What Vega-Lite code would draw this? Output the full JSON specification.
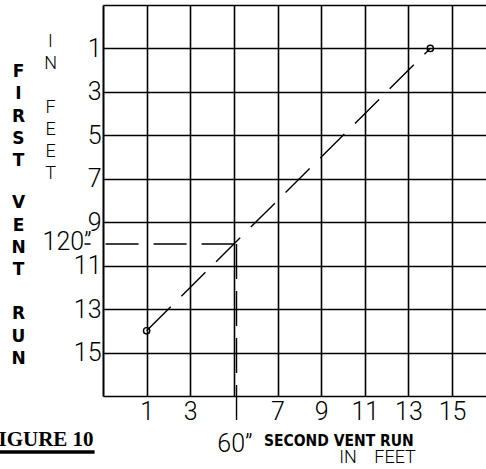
{
  "$schema": "https://vega.github.io/schema/vega-lite/v6.json",
  "autosize": {"type": "none"},
  "padding": {"left": 103, "top": 5, "right": 0, "bottom": 73},
  "width": 384,
  "height": 391,
  "config": {"view": {"stroke": null}},
  "datasets": {
    "diag": [{"x": 1, "y": 14}, {"x": 14, "y": 1}],
    "hline": [{"x": -1.845, "y": 10}, {"x": 5, "y": 10}],
    "vline": [{"x": 5.12, "y": 10}, {"x": 5.12, "y": 18.27}],
    "t120": [{"x": -1.52, "y": 10.3, "t": "120\u201d"}],
    "t60": [{"x": 5.05, "y": 19.6, "t": "60\u201d"}],
    "vtitle": [
      {"x": -4.873, "y": 2.103, "t": "F\nI\nR\nS\nT"},
      {"x": -4.873, "y": 8.134, "t": "V\nE\nN\nT"},
      {"x": -4.873, "y": 13.245, "t": "R\nU\nN"}
    ],
    "vunit": [
      {"x": -3.405, "y": 0.722, "t": "I\nN"},
      {"x": -3.405, "y": 3.76, "t": "F\nE\nE\nT"}
    ],
    "htitle": [{"x": 9.81, "y": 19.28, "t": "SECOND VENT RUN"}],
    "hunit": [{"x": 11.58, "y": 20.1, "t": "IN\u00a0\u00a0\u00a0\u00a0FEET"}],
    "fig": [{"x": -1.43, "y": 19.28, "t": "FIGURE 10"}],
    "figline": [{"x": -6, "y": 19.58}, {"x": -1.385, "y": 19.58}]
  },
  "encoding": {
    "x": {
      "field": "x", "type": "quantitative",
      "scale": {"domain": [-1, 16.6], "nice": false, "zero": false},
      "axis": {
        "title": null, "values": [-1, 1, 3, 5, 7, 9, 11, 13, 15],
        "grid": true, "gridColor": "#000", "gridWidth": 1.6, "gridOpacity": 1,
        "domain": false, "ticks": false, "labelPadding": 3,
        "labelFont": "Roboto", "labelFontWeight": 300, "labelFontSize": 25, "labelColor": "#000",
        "labelFlush": false, "labelOverlap": false,
        "labelExpr": "datum.value == -1 || datum.value == 5 ? '' : datum.label"
      }
    },
    "y": {
      "field": "y", "type": "quantitative",
      "scale": {"domain": [-1, 17], "nice": false, "zero": false, "reverse": true},
      "axis": {
        "title": null, "values": [-1, 1, 3, 5, 7, 9, 11, 13, 15, 17],
        "grid": true, "gridColor": "#000", "gridWidth": 1.6, "gridOpacity": 1,
        "domain": true, "domainColor": "#000", "domainWidth": 1.6, "ticks": false, "labelPadding": 2,
        "labelFont": "Roboto", "labelFontWeight": 300, "labelFontSize": 25, "labelColor": "#000",
        "labelFlush": false, "labelOverlap": false,
        "labelExpr": "datum.value == -1 || datum.value == 17 ? '' : datum.label"
      }
    }
  },
  "layer": [
    {"data": {"name": "diag"}, "mark": {"type": "line", "color": "#000", "strokeWidth": 1.4, "strokeDash": [34, 15]}},
    {"data": {"name": "diag"}, "mark": {"type": "point", "shape": "circle", "filled": false, "color": "#000", "size": 40, "strokeWidth": 1.4, "opacity": 1}},
    {"data": {"name": "hline"}, "mark": {"type": "line", "color": "#000", "strokeWidth": 1.4, "strokeDash": [33, 15], "strokeDashOffset": 27}},
    {"data": {"name": "vline"}, "mark": {"type": "line", "color": "#000", "strokeWidth": 1.4, "strokeDash": [35, 12]}},
    {"data": {"name": "figline"}, "mark": {"type": "line", "color": "#000", "strokeWidth": 3.5}},
    {"data": {"name": "t120"}, "mark": {"type": "text", "font": "Roboto", "fontWeight": 300, "fontSize": 25, "color": "#000", "baseline": "alphabetic", "align": "right"},
      "encoding": {"text": {"field": "t"}}},
    {"data": {"name": "t60"}, "mark": {"type": "text", "font": "Roboto", "fontWeight": 300, "fontSize": 25, "color": "#000", "baseline": "alphabetic", "align": "center"},
      "encoding": {"text": {"field": "t"}}},
    {"data": {"name": "vtitle"}, "mark": {"type": "text", "font": "DejaVu Sans", "fontWeight": "bold", "fontSize": 17, "color": "#000", "baseline": "middle", "align": "center", "lineBreak": "\n", "lineHeight": 22.1},
      "encoding": {"text": {"field": "t"}}},
    {"data": {"name": "vunit"}, "mark": {"type": "text", "font": "Roboto", "fontWeight": 300, "fontSize": 18, "color": "#000", "baseline": "middle", "align": "center", "lineBreak": "\n", "lineHeight": 22},
      "encoding": {"text": {"field": "t"}}},
    {"data": {"name": "htitle"}, "mark": {"type": "text", "font": "DejaVu Sans Condensed, DejaVu Sans", "fontWeight": "bold", "fontSize": 15.5, "color": "#000", "baseline": "alphabetic", "align": "center"},
      "encoding": {"text": {"field": "t"}}},
    {"data": {"name": "hunit"}, "mark": {"type": "text", "font": "Roboto", "fontWeight": 300, "fontSize": 18, "color": "#000", "baseline": "alphabetic", "align": "center"},
      "encoding": {"text": {"field": "t"}}},
    {"data": {"name": "fig"}, "mark": {"type": "text", "font": "Liberation Serif", "fontWeight": "bold", "fontSize": 21, "color": "#000", "baseline": "alphabetic", "align": "right"},
      "encoding": {"text": {"field": "t"}}}
  ]
}
